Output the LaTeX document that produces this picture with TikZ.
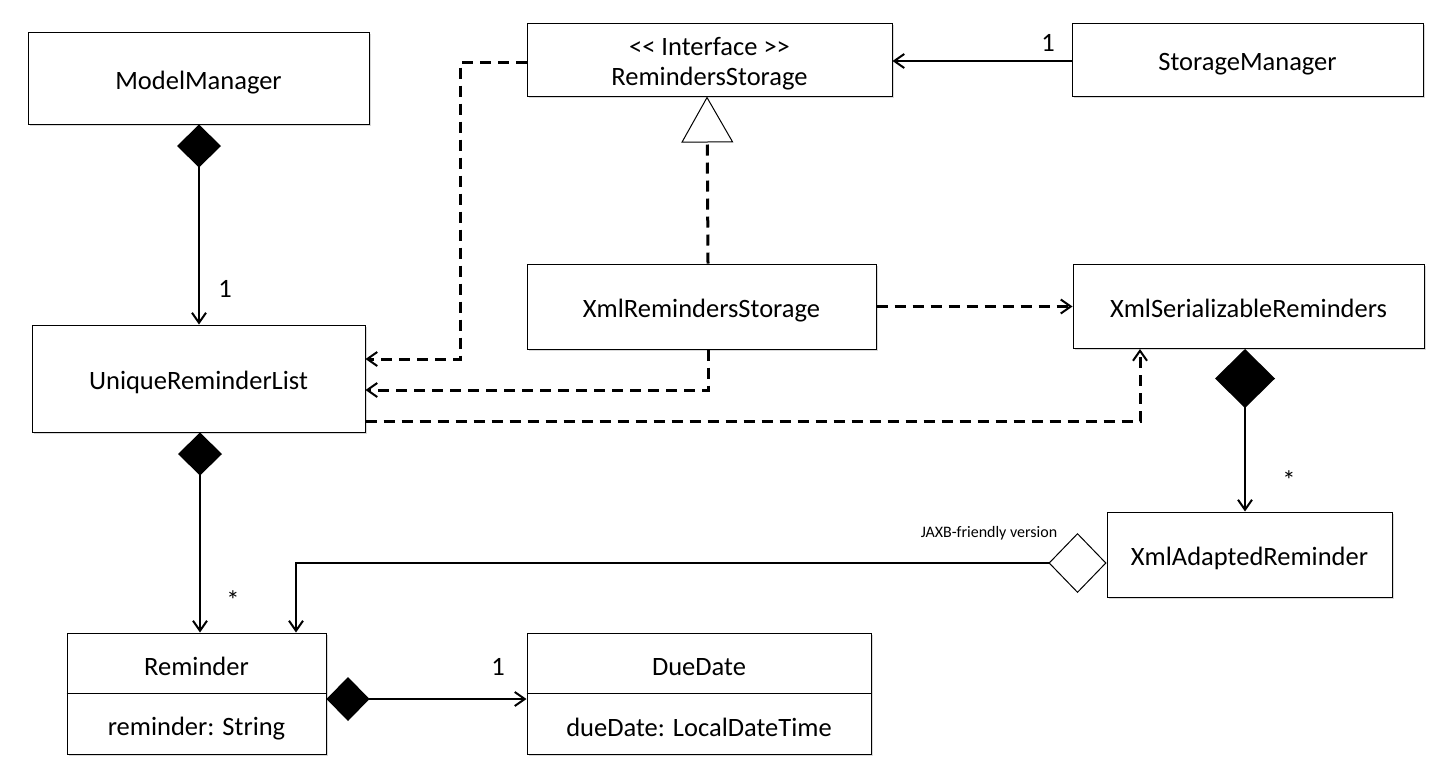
\documentclass[tikz,border=0pt]{standalone}
\usepackage{fontspec}
\setmainfont{Carlito}
\usetikzlibrary{arrows.meta,shapes.geometric,shadows,calc}

\begin{document}
\begin{tikzpicture}[x=1pt,y=-1pt,
  cls/.style={draw, line width=1pt, fill=white, inner sep=0pt,
    drop shadow={shadow xshift=1.5pt, shadow yshift=-1.5pt, opacity=0.3},
    font=\fontsize{26.5}{30}\selectfont, align=center,
    text height=22pt, text depth=0pt},
  txt/.style={inner sep=0pt, font=\fontsize{26.5}{30}\selectfont},
  small/.style={inner sep=0pt, font=\fontsize{16}{19}\selectfont},
  barb/.tip={Straight Barb[length=10pt,width=14pt,line width=2pt]},
  conn/.style={line width=2pt, -barb},
  dep/.style={line width=3pt, dash pattern=on 11pt off 7pt, -barb},
  comp/.style={conn, {Diamond[length=43pt,width=44pt]}-barb},
  bigcomp/.style={conn, {Diamond[length=59pt,width=60pt]}-barb},
  aggr/.style={conn, {Diamond[open,fill=white,length=58pt,width=60pt,line width=1pt]}-barb},
  realiz/.style={line width=3pt, dash pattern=on 11pt off 7pt,
    -{Triangle[open,fill=white,length=46pt,width=52pt,line width=1pt]}}
]
\useasboundingbox (0,0) rectangle (1440,777);

% classes
\node[cls, minimum width=341pt, minimum height=92pt] (mm) at (198.5,78) {ModelManager};
\node[cls, minimum width=333pt, minimum height=107pt] (ulr) at (198.5,378.5) {UniqueReminderList};
\node[cls, minimum width=365pt, minimum height=73pt, text height=52pt] (rs) at (709.5,59.5) {{<}{<} Interface {>}{>}\\RemindersStorage};
\node[cls, minimum width=351pt, minimum height=73pt] (sm) at (1247.5,59.5) {StorageManager};
\node[cls, minimum width=349pt, minimum height=85pt] (xrs) at (701.5,306.5) {XmlRemindersStorage};
\node[cls, minimum width=351pt, minimum height=84pt] (xsr) at (1248.5,306.5) {XmlSerializableReminders};
\node[cls, minimum width=285pt, minimum height=85pt] (xar) at (1249.5,554.5) {XmlAdaptedReminder};

\node[cls, minimum width=259pt, minimum height=121pt] (rem) at (196.5,693.5) {};
\draw[line width=1pt] (rem.west) -- (rem.east);
\node[txt, anchor=base] (remname) at (196.5,675) {Reminder};
\node[txt, anchor=base] (remattr) at (196.5,735) {reminder: String};

\node[cls, minimum width=344pt, minimum height=121pt] (dd) at (699,693.5) {};
\draw[line width=1pt] (dd.west) -- (dd.east);
\node[txt, anchor=base] (ddname) at (699,675) {DueDate};
\node[txt, anchor=base] (ddattr) at (699,736) {dueDate: LocalDateTime};

% connectors
\draw[comp] (mm.south -| 199,0) -- (ulr.north -| 199,0);
\node[txt] (l1) at (225,289) {1};

\draw[dep] (rs.west |- 0,62) -| (460,359) -- (ulr.east |- 0,359);
\draw[dep] ([xshift=6.5pt]xrs.south) |- (ulr.east |- 0,390);
\draw[dep] (ulr.east |- 0,421) -| (xsr.south -| 1140,0);
\draw[dep] (xrs.east) -- (xsr.west);
\draw[realiz] ([xshift=6.5pt]xrs.north) -- ([xshift=-2.5pt]rs.south);

\draw[conn] (sm.west |- 0,61) -- (rs.east |- 0,61);
\node[txt] (l2) at (1048,43) {1};

\draw[bigcomp] (xsr.south -| 1245,0) -- (xar.north -| 1245,0);
\node[txt] (l3) at (1289,480) {*};

\draw[comp] (ulr.south -| 200,0) -- (rem.north -| 200,0);
\node[txt] (l4) at (233,600) {*};

\draw[aggr] (xar.west |- 0,563) -| (rem.north -| 296,0);
\node[small] (jaxb) at (989,533) {JAXB-friendly version};

\draw[comp] (rem.east |- 0,699) -- (dd.west |- 0,699);
\node[txt] (l5) at (498,667) {1};
\end{tikzpicture}
\end{document}
